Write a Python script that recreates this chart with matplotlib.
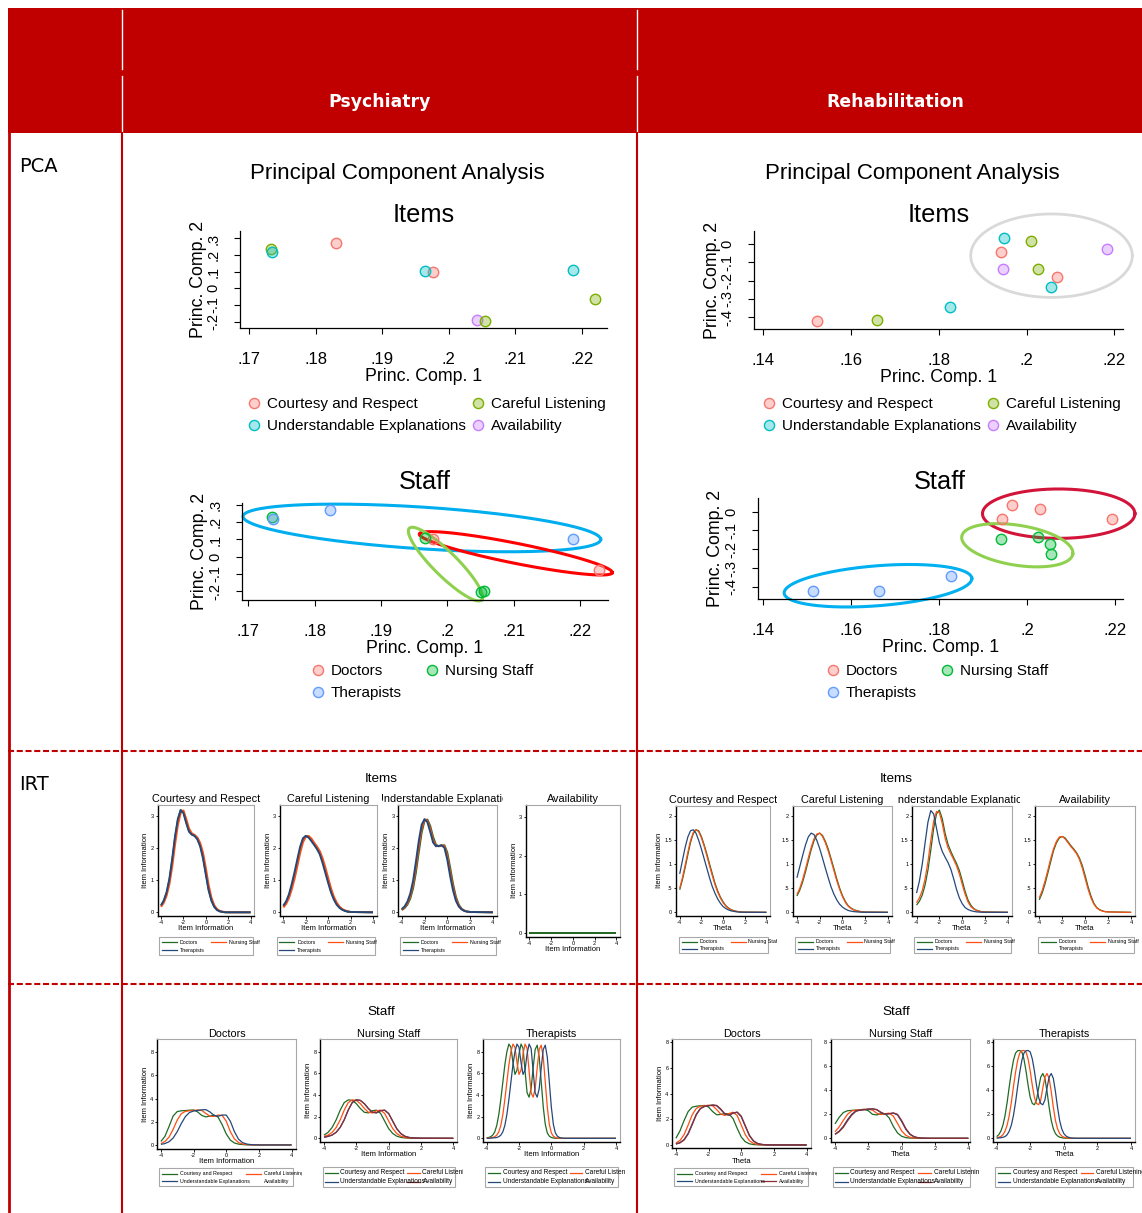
import numpy as np
import matplotlib
matplotlib.use('Agg')
import matplotlib.pyplot as plt
from matplotlib.patches import Rectangle
from matplotlib.lines import Line2D
from matplotlib.colors import to_rgba
from matplotlib.transforms import Bbox, TransformedBbox

plt.rcParams['font.family'] = ['Liberation Sans', 'DejaVu Sans']

W, H = 1142, 1213
RED = '#c00000'

# ---------------- PCA data ----------------
item_names = ['Courtesy and Respect', 'Careful Listening',
              'Understandable Explanations', 'Availability']
staff_names = ['Doctors', 'Nursing Staff', 'Therapists']
item_colors = ['#f8766d', '#7cae00', '#00bfc4', '#c77cff']
staff_colors = ['#f8766d', '#00ba38', '#619cff']

# psychiatry - items
psy_cr_pc1 = [0.1830, 0.1976]
psy_cr_pc2 = [0.275, 0.098]
psy_cl_pc1 = [0.1733, 0.2054, 0.2219]
psy_cl_pc2 = [0.235, -0.199, -0.066]
psy_ue_pc1 = [0.1734, 0.1965, 0.2187]
psy_ue_pc2 = [0.221, 0.104, 0.108]
psy_av_pc1 = [0.2042]
psy_av_pc2 = [-0.193]

# psychiatry - staff
psy_doc_pc1 = [0.1979, 0.2229]
psy_doc_pc2 = [0.105, -0.076]
psy_nur_pc1 = [0.1735, 0.1967, 0.2051, 0.2056]
psy_nur_pc2 = [0.233, 0.107, -0.203, -0.199]
psy_ther_pc1 = [0.1737, 0.1823, 0.2190]
psy_ther_pc2 = [0.221, 0.270, 0.105]

# rehabilitation - items
reh_cr_pc1 = [0.1523, 0.1941, 0.2069]
reh_cr_pc2 = [-0.422, -0.042, -0.180]
reh_cl_pc1 = [0.1660, 0.2010, 0.2025]
reh_cl_pc2 = [-0.417, 0.020, -0.138]
reh_ue_pc1 = [0.1825, 0.1948, 0.2055]
reh_ue_pc2 = [-0.345, 0.033, -0.233]
reh_av_pc1 = [0.1946, 0.2183]
reh_av_pc2 = [-0.136, -0.026]

# rehabilitation - staff
reh_doc_pc1 = [0.1942, 0.1965, 0.2029, 0.2193]
reh_doc_pc2 = [-0.040, 0.036, 0.016, -0.040]
reh_nur_pc1 = [0.1940, 0.2024, 0.2052, 0.2055]
reh_nur_pc2 = [-0.143, -0.136, -0.173, -0.225]
reh_ther_pc1 = [0.1512, 0.1663, 0.1826]
reh_ther_pc2 = [-0.423, -0.423, -0.343]

# group outlines: colour, centre, half-axis a, half-axis b (data units), width
psy_staff_rings = [
    ('#00aeef', (0.19616, 0.1669), (0.02696, -0.0657), (-0.0002, 0.122), 2.2),
    ('#ff0000', (0.21032, 0.0195), (0.014546, -0.1125), (-0.0003, -0.057), 2.2),
    ('#8fd14f', (0.19973, -0.0433), (0.005457, -0.2084), (-0.00127, -0.0496), 2.2),
]
reh_item_rings = [
    ('#d9d9d9', (0.20565, -0.0627), (0.018405, 0.0), (0.0, 0.2295), 2.0),
]
reh_staff_rings = [
    ('#d2143a', (0.20720, -0.0106), (0.017334, 0.0), (0.0, 0.1312), 2.2),
    ('#8fd14f', (0.19778, -0.1784), (0.012625, -0.0470), (-0.00072, -0.1049), 2.2),
    ('#00b0f0', (0.16609, -0.3935), (0.02134, 0.0398), (0.00039, -0.1057), 2.2),
]

# ---------------- IRT data (item information) ----------------
theta_a = np.r_[np.arange(-4, 2.001, 0.25), 4.0]
theta_b = np.r_[np.arange(-4, 1.001, 0.125), 4.0]

# psychiatry items, one curve per staff group
psy_cr_doc = [0.20, 0.35, 0.60, 1.00, 1.60, 2.30, 2.85, 3.17, 3.12, 2.80, 2.52, 2.42, 2.38,
              2.28, 2.08, 1.72, 1.22, 0.72, 0.38, 0.18, 0.08, 0.03, 0.01, 0.00, 0.00, 0.00]
psy_cr_nur = [0.17, 0.30, 0.52, 0.88, 1.42, 2.10, 2.70, 3.08, 3.16, 2.90, 2.60, 2.45, 2.40,
              2.32, 2.15, 1.85, 1.38, 0.85, 0.46, 0.22, 0.10, 0.04, 0.02, 0.01, 0.00, 0.00]
psy_cr_ther = [0.22, 0.37, 0.63, 1.05, 1.67, 2.36, 2.90, 3.17, 3.08, 2.77, 2.50, 2.41, 2.37,
               2.26, 2.04, 1.67, 1.17, 0.68, 0.36, 0.17, 0.07, 0.03, 0.01, 0.00, 0.00, 0.00]
psy_cl_doc = [0.18, 0.30, 0.50, 0.80, 1.15, 1.55, 1.95, 2.25, 2.37, 2.35, 2.25, 2.12, 2.00,
              1.85, 1.60, 1.30, 0.98, 0.68, 0.44, 0.27, 0.16, 0.09, 0.05, 0.02, 0.01, 0.00]
psy_cl_nur = [0.15, 0.26, 0.44, 0.71, 1.04, 1.43, 1.84, 2.17, 2.34, 2.37, 2.29, 2.16, 2.04,
              1.90, 1.68, 1.39, 1.07, 0.75, 0.49, 0.31, 0.18, 0.10, 0.06, 0.03, 0.01, 0.00]
psy_cl_ther = [0.21, 0.34, 0.56, 0.88, 1.25, 1.65, 2.04, 2.30, 2.37, 2.32, 2.21, 2.09, 1.96,
               1.80, 1.53, 1.22, 0.91, 0.62, 0.40, 0.24, 0.14, 0.08, 0.04, 0.02, 0.01, 0.00]
psy_ue_doc = [0.07, 0.13, 0.24, 0.43, 0.75, 1.25, 1.88, 2.48, 2.84, 2.88, 2.68, 2.34, 2.10,
              2.05, 2.07, 2.08, 1.85, 1.38, 0.88, 0.48, 0.24, 0.11, 0.05, 0.02, 0.01, 0.00]
psy_ue_nur = [0.08, 0.15, 0.28, 0.50, 0.85, 1.40, 2.05, 2.60, 2.88, 2.85, 2.60, 2.25, 2.07,
              2.05, 2.08, 2.05, 1.75, 1.25, 0.78, 0.42, 0.21, 0.10, 0.05, 0.02, 0.01, 0.00]
psy_ue_ther = [0.10, 0.18, 0.33, 0.58, 0.98, 1.58, 2.22, 2.72, 2.89, 2.80, 2.50, 2.17, 2.05,
               2.06, 2.08, 2.00, 1.63, 1.12, 0.68, 0.36, 0.18, 0.09, 0.04, 0.02, 0.01, 0.00]
psy_av_doc = [0.0] * 26
psy_av_nur = [0.0] * 26
psy_av_ther = [0.0] * 26

# rehabilitation items
reh_cr_doc = [0.47, 0.68, 0.93, 1.20, 1.46, 1.64, 1.72, 1.70, 1.58, 1.41, 1.22, 1.01, 0.81,
              0.61, 0.45, 0.32, 0.22, 0.14, 0.09, 0.055, 0.035, 0.02, 0.012, 0.006, 0.004, 0.00]
reh_cr_nur = [0.50, 0.72, 0.98, 1.25, 1.50, 1.66, 1.72, 1.68, 1.55, 1.38, 1.18, 0.97, 0.77,
              0.58, 0.42, 0.30, 0.20, 0.13, 0.08, 0.05, 0.03, 0.02, 0.01, 0.005, 0.003, 0.00]
reh_cr_ther = [0.80, 1.08, 1.35, 1.57, 1.70, 1.72, 1.65, 1.50, 1.32, 1.12, 0.92, 0.72, 0.54,
               0.40, 0.28, 0.19, 0.12, 0.08, 0.05, 0.03, 0.02, 0.01, 0.005, 0.003, 0.002, 0.00]
reh_cl_doc = [0.34, 0.46, 0.63, 0.84, 1.07, 1.30, 1.49, 1.61, 1.65, 1.60, 1.48, 1.32, 1.12,
              0.91, 0.70, 0.51, 0.35, 0.23, 0.14, 0.09, 0.055, 0.035, 0.02, 0.01, 0.005, 0.00]
reh_cl_nur = [0.37, 0.50, 0.68, 0.90, 1.13, 1.35, 1.53, 1.63, 1.65, 1.58, 1.45, 1.28, 1.08,
              0.87, 0.66, 0.48, 0.33, 0.21, 0.13, 0.08, 0.05, 0.03, 0.02, 0.01, 0.005, 0.00]
reh_cl_ther = [0.72, 0.95, 1.18, 1.40, 1.57, 1.65, 1.62, 1.50, 1.33, 1.13, 0.92, 0.72, 0.53,
               0.38, 0.26, 0.17, 0.11, 0.07, 0.04, 0.025, 0.015, 0.01, 0.005, 0.003, 0.002, 0.00]
reh_ue_doc = [0.15, 0.23, 0.36, 0.57, 0.88, 1.30, 1.75, 2.05, 2.13, 1.95, 1.65, 1.42, 1.27,
              1.14, 1.02, 0.87, 0.66, 0.44, 0.26, 0.15, 0.08, 0.045, 0.025, 0.012, 0.007, 0.00]
reh_ue_nur = [0.20, 0.30, 0.45, 0.70, 1.05, 1.50, 1.90, 2.10, 2.08, 1.85, 1.55, 1.35, 1.22,
              1.10, 0.97, 0.80, 0.58, 0.38, 0.22, 0.12, 0.07, 0.04, 0.02, 0.01, 0.005, 0.00]
reh_ue_ther = [0.40, 0.65, 1.00, 1.45, 1.88, 2.12, 2.05, 1.75, 1.45, 1.27, 1.15, 1.04, 0.90,
               0.70, 0.48, 0.30, 0.18, 0.10, 0.06, 0.035, 0.02, 0.01, 0.005, 0.003, 0.002, 0.00]
reh_av_doc = [0.26, 0.40, 0.59, 0.82, 1.06, 1.29, 1.45, 1.55, 1.58, 1.55, 1.47, 1.39, 1.32,
              1.24, 1.13, 0.97, 0.76, 0.53, 0.34, 0.19, 0.10, 0.055, 0.03, 0.015, 0.01, 0.00]
reh_av_nur = [0.30, 0.45, 0.65, 0.88, 1.12, 1.33, 1.48, 1.57, 1.58, 1.53, 1.45, 1.37, 1.30,
              1.22, 1.10, 0.92, 0.70, 0.48, 0.30, 0.17, 0.09, 0.05, 0.025, 0.012, 0.008, 0.00]

# psychiatry staff, one curve per item
psy_doc_cr = [0.30, 0.75, 1.60, 2.50, 2.88, 2.95, 2.97, 3.00, 3.02, 2.85, 2.55, 2.42, 2.50,
              2.58, 2.40, 1.75, 0.95, 0.42, 0.17, 0.07, 0.03, 0.01, 0.00, 0.00, 0.00, 0.00]
psy_doc_cl = [0.12, 0.30, 0.68, 1.35, 2.15, 2.70, 2.90, 2.95, 2.98, 3.02, 2.98, 2.72, 2.48,
              2.46, 2.58, 2.55, 2.05, 1.15, 0.52, 0.21, 0.08, 0.03, 0.01, 0.00, 0.00, 0.00]
psy_doc_ue = [0.05, 0.12, 0.28, 0.60, 1.15, 1.85, 2.45, 2.80, 2.93, 2.98, 3.03, 3.05, 2.85,
              2.55, 2.48, 2.58, 2.58, 2.05, 1.15, 0.50, 0.20, 0.08, 0.03, 0.01, 0.00, 0.00]
psy_nur_cr = [0.30, 0.55, 1.00, 1.70, 2.60, 3.30, 3.55, 3.50, 3.20, 2.75, 2.40, 2.35, 2.55,
              2.60, 2.30, 1.60, 0.90, 0.45, 0.20, 0.09, 0.04, 0.02, 0.01, 0.00, 0.00, 0.00]
psy_nur_cl = [0.18, 0.30, 0.55, 1.00, 1.70, 2.60, 3.30, 3.55, 3.50, 3.20, 2.75, 2.40, 2.35,
              2.55, 2.60, 2.30, 1.60, 0.90, 0.45, 0.20, 0.09, 0.04, 0.02, 0.01, 0.00, 0.00]
psy_nur_ue = [0.10, 0.18, 0.30, 0.55, 1.00, 1.70, 2.60, 3.30, 3.55, 3.50, 3.20, 2.75, 2.40,
              2.35, 2.55, 2.60, 2.30, 1.60, 0.90, 0.45, 0.20, 0.09, 0.04, 0.02, 0.01, 0.00]
psy_nur_av = [0.10, 0.18, 0.31, 0.56, 1.02, 1.72, 2.62, 3.32, 3.56, 3.50, 3.18, 2.73, 2.40,
              2.36, 2.56, 2.60, 2.28, 1.58, 0.88, 0.44, 0.19, 0.08, 0.04, 0.02, 0.01, 0.00]
psy_ther_cr = [0.05, 0.08, 0.15, 0.30, 0.60, 1.20, 2.20, 3.60, 5.20, 6.80, 8.00, 8.70, 8.40, 7.00,
               5.90, 6.30, 7.80, 8.70, 8.30, 6.20, 4.20, 3.80, 4.60, 6.50, 8.20, 8.60, 7.50, 5.20,
               2.90, 1.30, 0.50, 0.20, 0.08, 0.03, 0.01, 0.00, 0.00, 0.00, 0.00, 0.00, 0.00, 0.00]
psy_ther_cl = [0.02, 0.04, 0.05, 0.08, 0.15, 0.30, 0.60, 1.20, 2.20, 3.60, 5.20, 6.80, 8.00, 8.70,
               8.40, 7.00, 5.90, 6.30, 7.80, 8.70, 8.30, 6.20, 4.20, 3.80, 4.60, 6.50, 8.20, 8.60,
               7.50, 5.20, 2.90, 1.30, 0.50, 0.20, 0.08, 0.03, 0.01, 0.00, 0.00, 0.00, 0.00, 0.00]
psy_ther_ue = [0.01, 0.01, 0.02, 0.04, 0.05, 0.08, 0.15, 0.30, 0.60, 1.20, 2.20, 3.60, 5.20, 6.80,
               8.00, 8.70, 8.40, 7.00, 5.90, 6.30, 7.80, 8.70, 8.30, 6.20, 4.20, 3.80, 4.60, 6.50,
               8.20, 8.60, 7.50, 5.20, 2.90, 1.30, 0.50, 0.20, 0.08, 0.03, 0.01, 0.00, 0.00, 0.00]

# rehabilitation staff
reh_doc_cr = [0.52, 1.10, 1.90, 2.60, 2.95, 3.02, 3.05, 3.08, 2.95, 2.60, 2.35, 2.38, 2.45,
              2.42, 2.05, 1.30, 0.62, 0.25, 0.09, 0.03, 0.01, 0.00, 0.00, 0.00, 0.00, 0.00]
reh_doc_cl = [0.15, 0.35, 0.80, 1.55, 2.35, 2.85, 3.02, 3.05, 3.10, 3.05, 2.75, 2.40, 2.30,
              2.45, 2.55, 2.30, 1.55, 0.80, 0.33, 0.12, 0.04, 0.015, 0.005, 0.00, 0.00, 0.00]
reh_doc_ue = [0.08, 0.18, 0.42, 0.90, 1.65, 2.40, 2.85, 3.00, 3.05, 3.10, 3.05, 2.75, 2.40,
              2.32, 2.48, 2.55, 2.20, 1.45, 0.72, 0.30, 0.11, 0.04, 0.015, 0.005, 0.00, 0.00]
reh_doc_av = [0.07, 0.16, 0.38, 0.85, 1.58, 2.35, 2.82, 3.00, 3.06, 3.12, 3.08, 2.80, 2.42,
              2.33, 2.48, 2.56, 2.25, 1.50, 0.76, 0.32, 0.12, 0.045, 0.015, 0.005, 0.00, 0.00]
reh_nur_cr = [1.20, 1.75, 2.15, 2.30, 2.33, 2.35, 2.38, 2.42, 2.30, 2.00, 1.95, 2.05, 2.05,
              1.70, 1.00, 0.45, 0.17, 0.06, 0.02, 0.01, 0.00, 0.00, 0.00, 0.00, 0.00, 0.00]
reh_nur_cl = [0.55, 0.95, 1.50, 2.00, 2.28, 2.35, 2.38, 2.40, 2.42, 2.35, 2.10, 1.98, 2.05,
              2.10, 1.85, 1.25, 0.62, 0.25, 0.09, 0.03, 0.01, 0.00, 0.00, 0.00, 0.00, 0.00]
reh_nur_ue = [0.35, 0.60, 1.00, 1.55, 2.00, 2.28, 2.35, 2.38, 2.42, 2.45, 2.38, 2.15, 2.00,
              2.05, 2.10, 1.95, 1.40, 0.75, 0.32, 0.12, 0.04, 0.015, 0.005, 0.00, 0.00, 0.00]
reh_nur_av = [0.32, 0.55, 0.92, 1.45, 1.92, 2.25, 2.35, 2.40, 2.44, 2.46, 2.40, 2.18, 2.02,
              2.05, 2.12, 2.00, 1.48, 0.82, 0.36, 0.14, 0.05, 0.02, 0.005, 0.00, 0.00, 0.00]
reh_ther_cr = [0.15, 0.30, 0.60, 1.10, 1.90, 3.00, 4.30, 5.50, 6.50, 7.10, 7.30, 7.32, 7.20, 6.60,
               5.60, 4.40, 3.40, 2.90, 2.80, 3.20, 4.20, 5.10, 5.40, 5.00, 3.90, 2.60, 1.50, 0.80,
               0.40, 0.20, 0.10, 0.05, 0.02, 0.01, 0.00, 0.00, 0.00, 0.00, 0.00, 0.00, 0.00, 0.00]
reh_ther_cl = [0.05, 0.09, 0.15, 0.30, 0.60, 1.10, 1.90, 3.00, 4.30, 5.50, 6.50, 7.10, 7.30, 7.32,
               7.20, 6.60, 5.60, 4.40, 3.40, 2.90, 2.80, 3.20, 4.20, 5.10, 5.40, 5.00, 3.90, 2.60,
               1.50, 0.80, 0.40, 0.20, 0.10, 0.05, 0.02, 0.01, 0.00, 0.00, 0.00, 0.00, 0.00, 0.00]
reh_ther_ue = [0.02, 0.03, 0.05, 0.09, 0.15, 0.30, 0.60, 1.10, 1.90, 3.00, 4.30, 5.50, 6.50, 7.10,
               7.30, 7.32, 7.20, 6.60, 5.60, 4.40, 3.40, 2.90, 2.80, 3.20, 4.20, 5.10, 5.40, 5.00,
               3.90, 2.60, 1.50, 0.80, 0.40, 0.20, 0.10, 0.05, 0.02, 0.01, 0.00, 0.00, 0.00, 0.00]

G, O, N, M = '#1f6b25', '#ff4f12', '#24487a', '#8c2f39'

# ---------------- figure ----------------
fig = plt.figure(figsize=(W / 100, H / 100), dpi=100)
bg = fig.add_axes([0, 0, 1, 1])
bg.set_xlim(0, W)
bg.set_ylim(H, 0)
bg.axis('off')


def px_rect(x0, y0, x1, y1):
    return [x0 / W, 1 - y1 / H, (x1 - x0) / W, (y1 - y0) / H]


def region_clip(x0, x1):
    return TransformedBbox(Bbox.from_extents(x0 / W, 0, x1 / W, 1), fig.transFigure)


# table frame
bg.add_patch(Rectangle((8, 8), W - 8, 125, color=RED, lw=0))
for x in (122, 637):
    bg.plot([x, x], [10, 69], color='white', lw=1)
    bg.plot([x, x], [76, 133], color='white', lw=1)
    bg.plot([x, x], [133, H], color=RED, lw=1.5)
bg.plot([8.5, 8.5], [133, H], color=RED, lw=2)
for y in (750.5, 984):
    bg.plot([8, W], [y, y], color=RED, lw=1.5, dashes=(2.9, 1.3))

bg.text(380, 102, 'Psychiatry', color='white', fontweight='bold', family='DejaVu Sans',
        fontsize=12.4, ha='center', va='center')
bg.text(895, 102, 'Rehabilitation', color='white', fontweight='bold', family='DejaVu Sans',
        fontsize=12.4, ha='center', va='center')
bg.text(19, 167, 'PCA', family='DejaVu Sans', fontsize=14, ha='left', va='center')
bg.text(19, 784, 'IRT', family='DejaVu Sans', fontsize=14, ha='left', va='center')

for cx in (397, 912):
    bg.text(cx, 174, 'Principal Component Analysis', fontsize=16, ha='center', va='center')
for cx in (424, 939):
    bg.text(cx, 215, 'Items', fontsize=18.3, ha='center', va='center')
    bg.text(cx + 1, 482, 'Staff', fontsize=18.3, ha='center', va='center')
for cx in (381, 896):
    bg.text(cx, 779, 'Items', fontsize=9.7, ha='center', va='center')
    bg.text(cx, 1012, 'Staff', fontsize=9.7, ha='center', va='center')


# ---------------- PCA panels ----------------
def pca_panel(box, xlim, ylim, xt, xtl, yt, ytl, series, rings, leg_handles, leg_xy, colsp):
    ax = fig.add_axes(px_rect(*box))
    ax.patch.set_visible(False)
    tt = np.linspace(0, 2 * np.pi, 300)
    for col, (cx, cy), (ax_, ay_), (bx_, by_), lw in rings:
        ax.plot(cx + ax_ * np.cos(tt) + bx_ * np.sin(tt),
                cy + ay_ * np.cos(tt) + by_ * np.sin(tt), color=col, lw=lw, clip_on=False)
    for px, py, c in series:
        ax.plot(px, py, 'o', ms=7.5, mfc=to_rgba(c, 0.35), mec=c, mew=1.0, ls='none',
                clip_on=False)
    ax.set_xlim(xlim)
    ax.set_ylim(ylim)
    ax.spines[['top', 'right']].set_visible(False)
    ax.spines[['left', 'bottom']].set_linewidth(0.9)
    ax.set_xticks(xt, xtl)
    ax.set_yticks(yt, ytl, rotation=90, va='center')
    ax.tick_params(length=4, width=0.8, labelsize=12)
    ax.tick_params(axis='x', pad=13.5)
    ax.tick_params(axis='y', pad=10, labelsize=10.5)
    ax.set_xlabel('Princ. Comp. 1', fontsize=12.8, labelpad=0.5)
    ax.set_ylabel('Princ. Comp. 2', fontsize=12.8, labelpad=0)
    labels = [h.get_label() for h in leg_handles]
    ax.legend(leg_handles, labels, ncol=2, loc='upper left',
              bbox_to_anchor=(leg_xy[0] / W, 1 - leg_xy[1] / H), bbox_transform=fig.transFigure,
              frameon=False, fontsize=11, handlelength=0.8, handletextpad=0.45,
              columnspacing=colsp, labelspacing=0.55, borderpad=0, borderaxespad=0)
    return ax


def dot_handle(label, c):
    return Line2D([], [], marker='o', ls='none', ms=7.3, mfc=to_rgba(c, 0.35), mec=c,
                  mew=1.0, label=label)


item_handles = [dot_handle(item_names[i], item_colors[i]) for i in (0, 2, 1, 3)]
staff_handles = [dot_handle(staff_names[i], staff_colors[i]) for i in (0, 2, 1)]

psy_x = ([0.17, 0.18, 0.19, 0.2, 0.21, 0.22], ['.17', '.18', '.19', '.2', '.21', '.22'])
psy_y = ([-0.2, -0.1, 0, 0.1, 0.2, 0.3], ['-.2', '-.1', '0', '.1', '.2', '.3'])
reh_x = ([0.14, 0.16, 0.18, 0.2, 0.22], ['.14', '.16', '.18', '.2', '.22'])
reh_y = ([-0.4, -0.3, -0.2, -0.1, 0], ['-.4', '-.3', '-.2', '-.1', '0'])

pca_panel((240, 231, 607, 328), (0.16865, 0.22375), (-0.239, 0.345), *psy_x, *psy_y,
          [(psy_av_pc1, psy_av_pc2, item_colors[3]), (psy_cr_pc1, psy_cr_pc2, item_colors[0]),
           (psy_cl_pc1, psy_cl_pc2, item_colors[1]), (psy_ue_pc1, psy_ue_pc2, item_colors[2])],
          [], item_handles, (248, 397), 0.37)
pca_panel((241.7, 503, 607.7, 600), (0.1690, 0.22418), (-0.252, 0.312), *psy_x, *psy_y,
          [(psy_doc_pc1, psy_doc_pc2, staff_colors[0]), (psy_nur_pc1, psy_nur_pc2, staff_colors[1]),
           (psy_ther_pc1, psy_ther_pc2, staff_colors[2])],
          psy_staff_rings, staff_handles, (312, 664), 1.55)
pca_panel((754.3, 231, 1122.7, 329), (0.13795, 0.22187), (-0.466, 0.073), *reh_x, *reh_y,
          [(reh_av_pc1, reh_av_pc2, item_colors[3]), (reh_cr_pc1, reh_cr_pc2, item_colors[0]),
           (reh_cl_pc1, reh_cl_pc2, item_colors[1]), (reh_ue_pc1, reh_ue_pc2, item_colors[2])],
          reh_item_rings, item_handles, (763, 397), 0.37)
pca_panel((757.7, 498.3, 1122.7, 599), (0.13873, 0.22176), (-0.464, 0.071), *reh_x, *reh_y,
          [(reh_doc_pc1, reh_doc_pc2, staff_colors[0]), (reh_nur_pc1, reh_nur_pc2, staff_colors[1]),
           (reh_ther_pc1, reh_ther_pc2, staff_colors[2])],
          reh_staff_rings, staff_handles, (827, 664), 1.55)


# ---------------- IRT panels ----------------
def irt_panel(box, xlim, ylim, yt, ytl, title, xlabel, ylab_pad, region, curves, lw):
    ax = fig.add_axes(px_rect(*box))
    for th, vals, c in curves:
        ax.plot(th, vals, color=c, lw=lw, solid_capstyle='butt')
    ax.set_xlim(xlim)
    ax.set_ylim(ylim)
    for s in ('top', 'right'):
        ax.spines[s].set_color('#a8a8a8')
        ax.spines[s].set_linewidth(0.8)
    for s in ('left', 'bottom'):
        ax.spines[s].set_linewidth(1.0)
    ax.set_xticks([-4, -2, 0, 2, 4], ['-4', '-2', '0', '2', '4'])
    ax.set_yticks(yt, ytl)
    ax.tick_params(length=1.8, width=0.6, labelsize=4, pad=1)
    ax.set_xlabel(xlabel, fontsize=5.5, labelpad=0.3)
    if ylab_pad is not None:
        ax.set_ylabel('Item Information', fontsize=5.5, labelpad=ylab_pad)
    t = ax.set_title(title, fontsize=7.8, pad=2)
    t.set_clip_box(region_clip(*region))
    t.set_clip_on(True)
    return ax


def irt_legend(box, entries, col2, hl, fs, region):
    x0, y0, x1, y1 = box
    bg.add_patch(Rectangle((x0, y0), x1 - x0, y1 - y0, fill=False, ec='#a8a8a8', lw=0.8))
    clip = region_clip(*region)
    for i, (label, color) in enumerate(entries):
        row, col = divmod(i, 2)
        yy = y0 + (y1 - y0) * (0.3 if row == 0 else 0.74)
        xx = x0 + 2.5 + col * col2
        if color is not None:
            bg.plot([xx, xx + hl], [yy, yy], color=color, lw=0.9)
        tx = bg.text(xx + hl + 3, yy, label, fontsize=fs, va='center', ha='left')
        tx.set_clip_box(clip)
        tx.set_clip_on(True)


group_entries = [('Doctors', G), ('Nursing Staff', O), ('Therapists', N)]

# psychiatry items
psy_item_curves = [
    ('Courtesy and Respect', [psy_cr_doc, psy_cr_nur, psy_cr_ther]),
    ('Careful Listening', [psy_cl_doc, psy_cl_nur, psy_cl_ther]),
    ('Understandable Explanations', [psy_ue_doc, psy_ue_nur, psy_ue_ther]),
]
psy_item_boxes = [(157.7, 805, 254.3, 916), (280, 805, 376.7, 916), (398.3, 805, 496.7, 916)]
psy_item_leg = [(159.3, 936.7, 253.3, 955), (276.7, 936.7, 375, 955), (400, 936.7, 496, 955)]
psy_item_regions = [(140, 261), (261, 382), (382, 503)]
for (name, vals), box, lbox, reg in zip(psy_item_curves, psy_item_boxes, psy_item_leg,
                                        psy_item_regions):
    irt_panel(box, (-4.3, 4.33), (-0.115, 3.33), [0, 1, 2, 3], ['0', '1', '2', '3'], name,
              'Item Information', 1, reg,
              [(theta_a, vals[0], G), (theta_a, vals[1], O), (theta_a, vals[2], N)], 1.4)
    irt_legend(lbox, group_entries, 49, 15, 3.8, reg)
irt_panel((526, 805, 620, 936.7), (-4.3, 4.33), (-0.087, 3.30), [0, 1, 2, 3],
          ['0', '1', '2', '3'], 'Availability', 'Item Information', 1, (503, 625),
          [(theta_a, psy_av_ther, N), (theta_a, psy_av_nur, O), (theta_a, psy_av_doc, G)], 1.4)

# rehabilitation items
reh_item_curves = [
    ('Courtesy and Respect', [reh_cr_doc, reh_cr_nur, reh_cr_ther]),
    ('Careful Listening', [reh_cl_doc, reh_cl_nur, reh_cl_ther]),
    ('Understandable Explanations', [reh_ue_doc, reh_ue_nur, reh_ue_ther]),
    ('Availability', [reh_av_doc, reh_av_nur, None]),
]
reh_item_boxes = [(675.7, 806, 770, 915.7), (792.7, 806, 891.7, 915.7),
                  (912.3, 806, 1011.7, 915.7), (1035, 806, 1135, 915.7)]
reh_item_leg = [(679, 936.7, 767.7, 953.3), (795, 936.7, 890, 953.3),
                (914.3, 936.7, 1011, 953.3), (1038.3, 936.7, 1134.3, 953.3)]
reh_item_regions = [(655, 777), (777, 898), (898, 1020), (1020, 1142)]
for k, ((name, vals), box, lbox, reg) in enumerate(zip(reh_item_curves, reh_item_boxes,
                                                       reh_item_leg, reh_item_regions)):
    curves = [(theta_a, v, c) for v, c in zip(vals, (G, O, N)) if v is not None]
    irt_panel(box, (-4.37, 4.33), (-0.07, 2.215), [0, 0.5, 1, 1.5, 2],
              ['0', '.5', '1', '1.5', '2'], name, 'Theta', 1 if k == 0 else None, reg,
              curves, 0.9)
    entries = group_entries if vals[2] is not None else \
        [('Doctors', G), ('Nursing Staff', O), ('Therapists', None)]
    irt_legend(lbox, entries, 49, 15, 3.8, reg)

# staff panels
stf_entries = [('Courtesy and Respect', G), ('Careful Listening', O),
               ('Understandable Explanations', N), ('Availability', M)]
stf_entries_noav = stf_entries[:3] + [('Availability', None)]
ticks8 = ([0, 2, 4, 6, 8], ['0', '2', '4', '6', '8'])

irt_panel((157.3, 1039.3, 296, 1149), (-4.22, 4.27), (-0.35, 9.12), *ticks8, 'Doctors',
          'Item Information', 1, (140, 302),
          [(theta_a, psy_doc_cr, G), (theta_a, psy_doc_cl, O), (theta_a, psy_doc_ue, N)], 0.9)
irt_legend((159.3, 1168.3, 293.3, 1186), stf_entries_noav, 84, 15, 3.8, (140, 302))
irt_panel((320.3, 1039.3, 456.7, 1141.7), (-4.23, 4.21), (-0.31, 9.14), *ticks8, 'Nursing Staff',
          'Item Information', 0.5, (302, 463),
          [(theta_a, psy_nur_cr, G), (theta_a, psy_nur_cl, O), (theta_a, psy_nur_ue, N),
           (theta_a, psy_nur_av, M)], 0.9)
irt_legend((322.7, 1166.7, 455, 1186.7), stf_entries, 82, 12.3, 4.7, (302, 463))
irt_panel((483.3, 1039.3, 620, 1141.7), (-4.21, 4.25), (-0.31, 9.14), *ticks8, 'Therapists',
          'Item Information', 0.5, (463, 625),
          [(theta_b, psy_ther_cr, G), (theta_b, psy_ther_cl, O), (theta_b, psy_ther_ue, N)], 0.9)
irt_legend((485, 1166.7, 618.3, 1186.7), stf_entries_noav, 82, 12.3, 4.7, (463, 625))

irt_panel((672.3, 1039.3, 811, 1148.3), (-4.22, 4.27), (-0.26, 8.23), *ticks8, 'Doctors',
          'Theta', 1, (655, 817),
          [(theta_a, reh_doc_cr, G), (theta_a, reh_doc_cl, O), (theta_a, reh_doc_ue, N),
           (theta_a, reh_doc_av, M)], 0.9)
irt_legend((674.3, 1168.3, 808.3, 1186), stf_entries, 84, 15, 3.8, (655, 817))
irt_panel((831, 1039.3, 970, 1141.7), (-4.24, 4.1), (-0.28, 8.25), *ticks8, 'Nursing Staff',
          'Theta', None, (817, 979),
          [(theta_a, reh_nur_cr, G), (theta_a, reh_nur_cl, O), (theta_a, reh_nur_ue, N),
           (theta_a, reh_nur_av, M)], 0.9)
irt_legend((832.7, 1166.7, 970, 1186.7), stf_entries, 83, 12.3, 4.7, (817, 979))
irt_panel((993.3, 1039.3, 1135, 1141.7), (-4.2, 4.24), (-0.28, 8.25), *ticks8, 'Therapists',
          'Theta', None, (979, 1142),
          [(theta_b, reh_ther_cr, G), (theta_b, reh_ther_cl, O), (theta_b, reh_ther_ue, N)], 0.9)
irt_legend((995, 1166.7, 1133.3, 1186.7), stf_entries_noav, 83, 12.3, 4.7, (979, 1142))

fig.savefig('out.png', dpi=100, facecolor='white')
